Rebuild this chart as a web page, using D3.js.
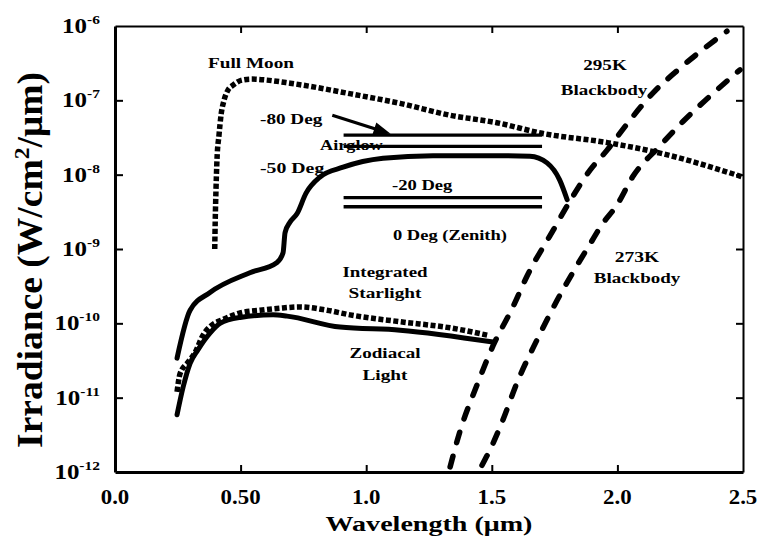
<!DOCTYPE html>
<html><head><meta charset="utf-8">
<script src="https://cdn.jsdelivr.net/npm/d3@7"></script>
<style>body{margin:0;background:#fff}svg{display:block}</style>
</head><body><svg id="chart" width="760" height="550"></svg>
<script>
// ---------- data ----------
const xTicks = [0, 0.5, 1.0, 1.5, 2.0, 2.5];
const xTickLabels = ["0.0", "0.50", "1.0", "1.5", "2.0", "2.5"];
const yTickExponents = [-12, -11, -10, -9, -8, -7, -6];

const moonX = [0.397, 0.399, 0.402, 0.406, 0.414, 0.422, 0.434, 0.450, 0.470, 0.506, 0.545, 0.605, 0.697, 0.748, 0.94, 1.135, 1.334, 1.52, 1.70, 1.96, 2.17, 2.50];
const moonY = [1.0e-9, 2.4e-9, 6.2e-9, 1.6e-8, 3.4e-8, 6.3e-8, 1.0e-7, 1.38e-7, 1.6e-7, 1.87e-7, 1.93e-7, 1.87e-7, 1.70e-7, 1.60e-7, 1.22e-7, 9.1e-8, 6.3e-8, 5.0e-8, 3.6e-8, 2.7e-8, 1.95e-8, 9.3e-9];

const airglow50X = [0.247, 0.299, 0.378, 0.537, 0.645, 0.669, 0.677, 0.697, 0.725, 0.760, 0.816, 0.908, 1.067, 1.266, 1.52, 1.652, 1.72, 1.77, 1.80];
const airglow50Y = [3.4e-11, 1.5e-10, 2.6e-10, 4.8e-10, 6.6e-10, 8.9e-10, 1.66e-9, 2.3e-9, 3.0e-9, 5.6e-9, 9.3e-9, 1.26e-8, 1.66e-8, 1.8e-8, 1.8e-8, 1.77e-8, 1.44e-8, 8.5e-9, 4.6e-9];

const airglowLineX = [0.91, 1.70];
const airglowLevels = [3.4e-8, 2.4e-8, 4.9e-9, 3.7e-9];

const starX = [0.247, 0.259, 0.291, 0.318, 0.350, 0.386, 0.426, 0.498, 0.577, 0.657, 0.736, 0.844, 0.936, 1.135, 1.334, 1.485];
const starY = [1.2e-11, 2.1e-11, 3.0e-11, 4.0e-11, 6.9e-11, 9.5e-11, 1.11e-10, 1.38e-10, 1.5e-10, 1.6e-10, 1.66e-10, 1.5e-10, 1.3e-10, 1.05e-10, 8.7e-11, 6.9e-11];

const zodiX = [0.247, 0.271, 0.299, 0.330, 0.378, 0.418, 0.498, 0.629, 0.685, 0.896, 1.135, 1.505];
const zodiY = [5.9e-12, 1.38e-11, 2.9e-11, 4.4e-11, 7.4e-11, 1.0e-10, 1.2e-10, 1.3e-10, 1.25e-10, 8.9e-11, 8.1e-11, 5.6e-11];

const bb295X = [1.334, 1.373, 1.441, 1.505, 1.584, 1.640, 1.744, 1.811, 1.891, 1.959, 2.038, 2.142, 2.249, 2.436];
const bb295Y = [1.17e-12, 3.5e-12, 1.48e-11, 5.0e-11, 1.66e-10, 4.3e-10, 1.78e-9, 4.4e-9, 1.15e-8, 2.14e-8, 4.8e-8, 1.26e-7, 2.7e-7, 8.5e-7];

const bb273X = [1.461, 1.50, 1.541, 1.60, 1.68, 1.76, 1.839, 1.89, 1.939, 1.998, 2.062, 2.170, 2.261, 2.357, 2.488];
const bb273Y = [1.23e-12, 2.24e-12, 4.7e-12, 1.58e-11, 6.0e-11, 2.04e-10, 6.0e-10, 1.15e-9, 2.14e-9, 3.9e-9, 9.5e-9, 2.45e-8, 5.2e-8, 1.05e-7, 2.57e-7];

// ---------- layout ----------
const svg = d3.select("#chart");
const margin = {top: 26, right: 17, bottom: 78, left: 115};
const W = 760 - margin.left - margin.right;
const H = 550 - margin.top - margin.bottom;
const g = svg.append("g").attr("transform", `translate(${margin.left},${margin.top})`);

const x = d3.scaleLinear().domain([0, 2.5]).range([0, W]);
const y = d3.scaleLog().domain([1e-12, 1e-6]).range([H, 0]);
const yTicks = yTickExponents.map(e => Math.pow(10, e));

const FONT = "'Liberation Serif','Times New Roman','DejaVu Serif',serif";

// text helper: width-fitted bold serif text
function fitText(parent, x0, y0, size, anchor, target, rot, build) {
  const t = parent.append("text")
    .attr("transform", `translate(${x0},${y0})`)
    .attr("text-anchor", anchor).attr("font-family", FONT)
    .attr("font-weight", "bold").attr("font-size", size).attr("fill", "#000");
  build(t);
  const w = t.node().getBBox().width || target;
  const k = target / w;
  t.attr("transform", `translate(${x0},${y0})${rot ? " rotate(-90)" : ""} scale(${k},1)`);
  return k;
}
function scaledText(parent, x0, y0, size, anchor, k, build) {
  const t = parent.append("text")
    .attr("transform", `translate(${x0},${y0}) scale(${k},1)`)
    .attr("text-anchor", anchor).attr("font-family", FONT)
    .attr("font-weight", "bold").attr("font-size", size).attr("fill", "#000");
  build(t);
  return t;
}
function measure(txt, size) {
  const t = svg.append("text").attr("font-family", FONT).attr("font-weight", "bold")
    .attr("font-size", size).text(txt);
  const w = t.node().getBBox().width; t.remove(); return w;
}

// ---------- series ----------
const line = d3.line().x(d => x(d[0])).y(d => y(d[1])).curve(d3.curveMonotoneX);
function series(xs, ys, style) {
  const pts = xs.map((v, i) => [v, ys[i]]);
  const p = g.append("path").datum(pts).attr("d", line)
    .attr("fill", "none").attr("stroke", "#000");
  Object.entries(style).forEach(([k, v]) => p.attr(k, v));
  return p;
}
const dotted = {"stroke-width": 5.5, "stroke-dasharray": "5,2.5", "stroke-linecap": "butt"};
const dashed = {"stroke-width": 5.5, "stroke-dasharray": "11,14", "stroke-linecap": "round"};
const solid = {"stroke-width": 5, "stroke-linejoin": "round", "stroke-linecap": "round"};

series(moonX, moonY, dotted);
series(starX, starY, dotted);
series(zodiX, zodiY, solid);
series(airglow50X, airglow50Y, solid);
series(bb295X, bb295Y, dashed);
series(bb273X, bb273Y, dashed);

g.selectAll("line.airglow").data(airglowLevels).join("line")
  .attr("class", "airglow")
  .attr("x1", x(airglowLineX[0])).attr("x2", x(airglowLineX[1]))
  .attr("y1", d => y(d)).attr("y2", d => y(d))
  .attr("stroke", "#000").attr("stroke-width", 3.3);

// arrow from "-80 Deg" label to the top airglow line
(function () {
  const tail = [x(0.865), y(6.3e-8)];
  const tip = [x(1.097), y(3.55e-8)];
  const dx = tip[0] - tail[0], dy = tip[1] - tail[1];
  const L = Math.hypot(dx, dy), ux = dx / L, uy = dy / L, nx = -uy, ny = ux;
  g.append("line").attr("x1", tail[0]).attr("y1", tail[1])
    .attr("x2", tip[0] - 10 * ux).attr("y2", tip[1] - 10 * uy)
    .attr("stroke", "#000").attr("stroke-width", 3.2);
  const b = [tip[0] - 17 * ux, tip[1] - 17 * uy];
  g.append("path").attr("d",
    `M${tip[0]},${tip[1]}L${b[0] + 6.5 * nx},${b[1] + 6.5 * ny}L${b[0] - 6.5 * nx},${b[1] - 6.5 * ny}Z`)
    .attr("fill", "#000");
})();

// ---------- axes ----------
function styleAxis(sel, w) {
  sel.select(".domain").attr("stroke-width", w);
  sel.selectAll(".tick line").attr("stroke-width", 2);
  sel.selectAll(".tick text").remove();
}
const xb = g.append("g").attr("transform", `translate(0,${H})`)
  .call(d3.axisBottom(x).tickValues(xTicks).tickFormat(() => "")
    .tickSizeInner(-7).tickSizeOuter(0));
styleAxis(xb, 3);
xb.selectAll(".tick").filter(d => d === 0 || d === 2.5).select("line").remove();

const xt = g.append("g")
  .call(d3.axisTop(x).tickValues(xTicks.slice(1, -1)).tickFormat(() => "")
    .tickSizeInner(-7).tickSizeOuter(0));
styleAxis(xt, 2);

const yl = g.append("g")
  .call(d3.axisLeft(y).tickValues(yTicks).tickFormat(() => "")
    .tickSizeInner(-8).tickSizeOuter(0));
styleAxis(yl, 3);
yl.selectAll(".tick").filter(d => d === 1e-12 || d === 1e-6).select("line").remove();

const yr = g.append("g").attr("transform", `translate(${W},0)`)
  .call(d3.axisRight(y).tickValues(yTicks.slice(1, -1)).tickFormat(() => "")
    .tickSizeInner(-7).tickSizeOuter(0));
styleAxis(yr, 2);

// tick labels (positions from the scales)
const xk = 40 / measure("0.50", 20);
xTicks.forEach((v, i) => {
  scaledText(g, x(v), H + 32, 20, "middle", xk, t => t.text(xTickLabels[i]));
});
const yk = 25 / measure("10", 21);
yTicks.forEach((v, i) => {
  scaledText(g, -15, y(v) + 7, 21, "end", yk, t => {
    t.append("tspan").text("10");
    t.append("tspan").attr("font-size", 13).attr("dy", -9).text(String(yTickExponents[i]));
  });
});

// ---------- titles ----------
fitText(svg, margin.left + W / 2, 531, 21, "middle", 207, false, t => t.text("Wavelength (μm)"));
fitText(svg, 42, 260, 35, "middle", 376, true, t => {
  t.append("tspan").text("Irradiance (W/cm");
  t.append("tspan").attr("font-size", 22).attr("dy", -13).text("2");
  t.append("tspan").attr("dy", 13).text("/μm)");
});

// ---------- annotations ----------
const notes = [
  ["Full Moon", 251, 68, "middle", 87],
  ["-80 Deg", 260, 124, "start", 63],
  ["Airglow", 320, 150, "start", 63],
  ["-50 Deg", 260, 173, "start", 65],
  ["-20 Deg", 392, 190, "start", 61],
  ["0 Deg (Zenith)", 393, 240, "start", 114],
  ["Integrated", 385, 277, "middle", 86],
  ["Starlight", 385, 298, "middle", 73],
  ["Zodiacal", 385, 358, "middle", 71],
  ["Light", 385, 380, "middle", 45],
  ["295K", 605, 70, "middle", 44],
  ["Blackbody", 604, 95, "middle", 87],
  ["273K", 637, 262, "middle", 45],
  ["Blackbody", 637, 283, "middle", 87]
];
const ann = svg.append("g");
notes.forEach(n => fitText(ann, n[1], n[2], 15, n[3], n[4], false, t => t.text(n[0])));
</script>
</body></html>
